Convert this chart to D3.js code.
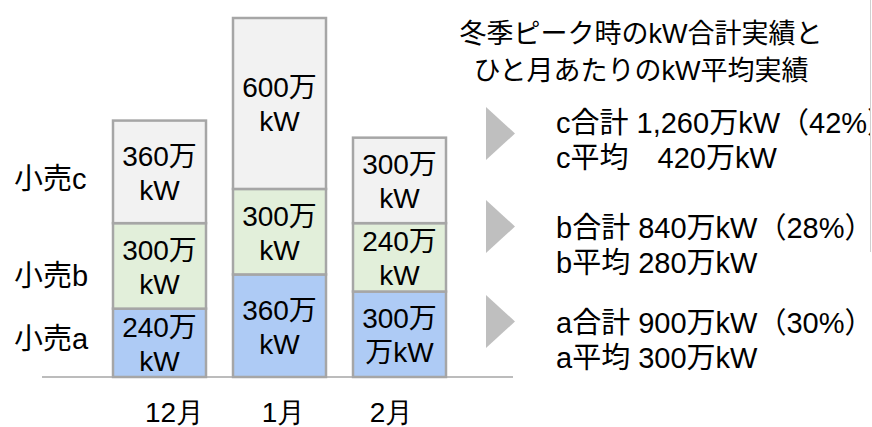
<!DOCTYPE html>
<html>
<head>
<meta charset="utf-8">
<script src="https://cdn.jsdelivr.net/npm/d3@7"></script>
<style>
  body { margin: 0; background: #fff; }
  svg { display: block; font-family: "Liberation Sans", Arial, "Noto Sans CJK JP", sans-serif; }
</style>
</head>
<body>
<div id="viz"></div>
<script>
// data (万kW)
var months = ['12月', '1月', '2月'];
var retailA = [240, 360, 300];
var retailB = [300, 300, 240];
var retailC = [360, 600, 300];
var seriesNames = ['小売a', '小売b', '小売c'];
var labelsA = [['240万', 'kW'], ['360万', 'kW'], ['300万', '万kW']];
var labelsB = [['300万', 'kW'], ['300万', 'kW'], ['240万', 'kW']];
var labelsC = [['360万', 'kW'], ['600万', 'kW'], ['300万', 'kW']];
var titleLines = ['冬季ピーク時のkW合計実績と', 'ひと月あたりのkW平均実績'];
var summaryC = ['c合計 1,260万kW（42%）', 'c平均\u3000420万kW'];
var summaryB = ['b合計 840万kW（28%）', 'b平均 280万kW'];
var summaryA = ['a合計 900万kW（30%）', 'a平均 300万kW'];

var width = 872,
    height = 427,
    baseY = 377,
    colours = ['#aecbf5', '#e2efda', '#f2f2f2'],
    monthNudge = [15, 4, -8],
    nameNudge = [-4, 10, 7];

var table = months.map(function(m, i) {
  return { month: m, a: retailA[i], b: retailB[i], c: retailC[i] };
});
var stack = d3.stack().keys(['a', 'b', 'c'])(table);
var segLabels = [labelsA, labelsB, labelsC];

var xScale = d3.scaleBand()
  .domain(months)
  .range([113, 446])
  .paddingInner(0.225)
  .paddingOuter(0);

var yScale = d3.scaleLinear()
  .domain([0, 1260])
  .range([baseY, 18]);

var svg = d3.select('#viz').append('svg')
  .attr('width', width)
  .attr('height', height);

// the text box on the right is cut at its frame, as in the slide
svg.append('clipPath')
  .attr('id', 'box-clip')
  .append('rect')
  .attr('x', 0).attr('y', 0)
  .attr('width', 870).attr('height', height);

// baseline
svg.append('line')
  .attr('x1', 42).attr('x2', 513)
  .attr('y1', baseY).attr('y2', baseY)
  .attr('stroke', '#a6a6a6')
  .attr('stroke-width', 1.5);

// stacked bars
var layers = svg.selectAll('g.layer')
  .data(stack)
  .enter().append('g')
  .attr('class', 'layer')
  .attr('fill', function(d, i) { return colours[i]; });

layers.selectAll('rect')
  .data(function(d) { return d; })
  .enter().append('rect')
  .attr('x', function(d) { return xScale(d.data.month); })
  .attr('y', function(d) { return yScale(d[1]); })
  .attr('width', xScale.bandwidth())
  .attr('height', function(d) { return yScale(d[0]) - yScale(d[1]); })
  .attr('stroke', '#a6a6a6')
  .attr('stroke-width', 2.5);

// labels in bars
stack.forEach(function(layer, li) {
  layer.forEach(function(d, i) {
    var cx = xScale(d.data.month) + xScale.bandwidth() / 2,
        cy = (yScale(d[0]) + yScale(d[1])) / 2;
    var t = svg.append('text')
      .attr('text-anchor', 'middle')
      .attr('font-size', 28)
      .attr('fill', '#000');
    t.append('tspan').attr('x', cx).attr('y', cy - 6).text(segLabels[li][i][0]);
    t.append('tspan').attr('x', cx).attr('y', cy + 28).text(segLabels[li][i][1]);
  });
});

// series names on the left, next to the first bar
svg.selectAll('text.name')
  .data(stack)
  .enter().append('text')
  .attr('class', 'name')
  .attr('x', 14)
  .attr('y', function(d, i) { return (yScale(d[0][0]) + yScale(d[0][1])) / 2 + nameNudge[i]; })
  .attr('dy', '0.35em')
  .attr('font-size', 29)
  .text(function(d, i) { return seriesNames[i]; });

// month axis
var xAxis = svg.append('g')
  .attr('transform', 'translate(0,' + baseY + ')')
  .call(d3.axisBottom(xScale).tickSize(0).tickPadding(0));
xAxis.select('.domain').remove();
xAxis.selectAll('text')
  .attr('font-size', 28)
  .attr('font-family', null)
  .attr('fill', '#000')
  .attr('dy', null)
  .attr('y', 45)
  .attr('dx', function(d, i) { return monthNudge[i]; });

// title
svg.selectAll('text.title')
  .data(titleLines)
  .enter().append('text')
  .attr('class', 'title')
  .attr('x', 641)
  .attr('y', function(d, i) { return 43 + i * 37; })
  .attr('text-anchor', 'middle')
  .attr('font-size', 27)
  .text(function(d) { return d; });

// summary blocks with arrows
var groups = [
  { lines: summaryC, tri: 107, text: 133 },
  { lines: summaryB, tri: 200, text: 238 },
  { lines: summaryA, tri: 295, text: 333 }
];

var g = svg.selectAll('g.summary')
  .data(groups)
  .enter().append('g')
  .attr('class', 'summary')
  .attr('clip-path', 'url(#box-clip)');

g.append('path')
  .attr('d', function(d) {
    return 'M486,' + d.tri + 'L515,' + (d.tri + 26.5) + 'L486,' + (d.tri + 53) + 'Z';
  })
  .attr('fill', '#bfbfbf');

g.selectAll('text')
  .data(function(d) { return d.lines.map(function(l, i) { return { t: l, y: d.text + i * 35 }; }); })
  .enter().append('text')
  .attr('x', 556)
  .attr('y', function(d) { return d.y; })
  .attr('font-size', 29)
  .text(function(d) { return d.t; });

// frame edge on the right
svg.append('line')
  .attr('x1', 870.5).attr('x2', 870.5)
  .attr('y1', 0).attr('y2', 252)
  .attr('stroke', '#d0d0d0')
  .attr('stroke-width', 1);
</script>
</body>
</html>
